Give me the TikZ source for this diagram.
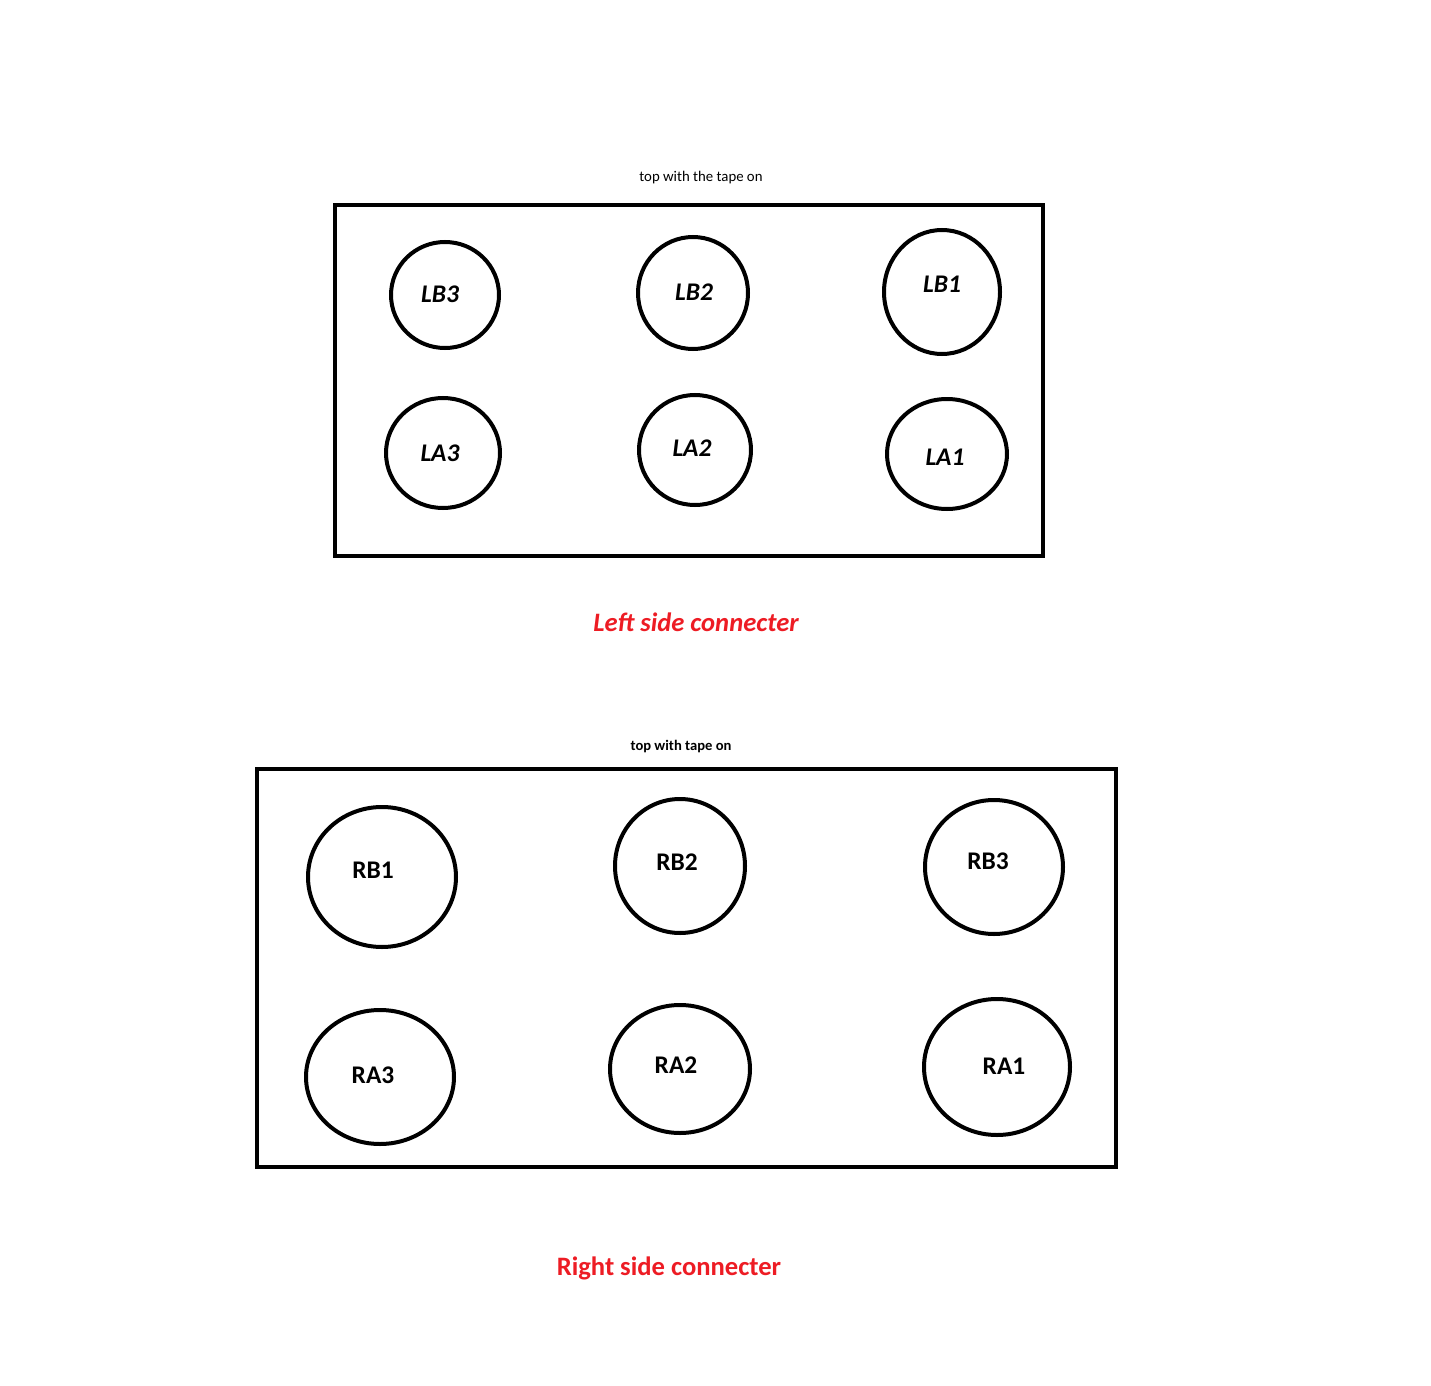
\documentclass[tikz,border=0pt]{standalone}
\usepackage{fontspec}
\setmainfont{Carlito}
\usetikzlibrary{shapes.geometric}
\definecolor{pinred}{HTML}{ED1C24}
\tikzset{
  box/.style={draw, line width=2pt},
  pin/.style={draw, ellipse, line width=2pt, inner sep=0pt},
  llab/.style={font=\fontsize{12.7}{14}\selectfont\bfseries\itshape, inner sep=0pt},
  rlab/.style={font=\fontsize{12.7}{14}\selectfont\bfseries, inner sep=0pt},
  note/.style={font=\fontsize{7.4}{9}\selectfont, inner sep=0pt},
  bnote/.style={font=\fontsize{7.3}{9}\selectfont\bfseries, inner sep=0pt},
  title/.style={font=\fontsize{13.3}{15}\selectfont\bfseries, text=pinred, inner sep=0pt},
}
\begin{document}
\begin{tikzpicture}[x=0.5pt,y=-0.5pt]
\useasboundingbox (0,0) rectangle (1431,1386);
% left connector
\node[note] (n1) at (701,178) {top with the tape on};
\draw[box] (335,205) rectangle (1043,556);
\node[pin, minimum width=108pt*0.5, minimum height=106pt*0.5] (LB3) at (445,295) {};
\node[pin, minimum width=110pt*0.5, minimum height=112pt*0.5] (LB2) at (693,293) {};
\node[pin, minimum width=116pt*0.5, minimum height=124pt*0.5] (LB1) at (942,292) {};
\node[pin, minimum width=114pt*0.5, minimum height=110pt*0.5] (LA3) at (443,453) {};
\node[pin, minimum width=112pt*0.5, minimum height=110pt*0.5] (LA2) at (695,450) {};
\node[pin, minimum width=120pt*0.5, minimum height=110pt*0.5] (LA1) at (947,454) {};
\node[llab] (tLB3) at (440,294) {LB3};
\node[llab] (tLB2) at (694,292) {LB2};
\node[llab] (tLB1) at (942,284) {LB1};
\node[llab] (tLA3) at (440,453) {LA3};
\node[llab] (tLA2) at (692,448) {LA2};
\node[llab] (tLA1) at (945,457) {LA1};
\node[title, font=\fontsize{13.3}{15}\selectfont\bfseries\itshape] (t1) at (696,622) {Left side connecter};
% right connector
\node[bnote] (n2) at (681,747) {top with tape on};
\draw[box] (257,769) rectangle (1116,1167);
\node[pin, minimum width=148pt*0.5, minimum height=140pt*0.5] (RB1) at (382,877) {};
\node[pin, minimum width=130pt*0.5, minimum height=134pt*0.5] (RB2) at (680,866) {};
\node[pin, minimum width=138pt*0.5, minimum height=134pt*0.5] (RB3) at (994,867) {};
\node[pin, minimum width=148pt*0.5, minimum height=134pt*0.5] (RA3) at (380,1077) {};
\node[pin, minimum width=140pt*0.5, minimum height=128pt*0.5] (RA2) at (680,1069) {};
\node[pin, minimum width=146pt*0.5, minimum height=136pt*0.5] (RA1) at (997,1067) {};
\node[rlab] (tRB1) at (373,870) {RB1};
\node[rlab] (tRB2) at (677,862) {RB2};
\node[rlab] (tRB3) at (988,861) {RB3};
\node[rlab] (tRA3) at (373,1075) {RA3};
\node[rlab] (tRA2) at (676,1065) {RA2};
\node[rlab] (tRA1) at (1004,1066) {RA1};
\node[title] (t2) at (669,1268) {Right side connecter};
\end{tikzpicture}
\end{document}
